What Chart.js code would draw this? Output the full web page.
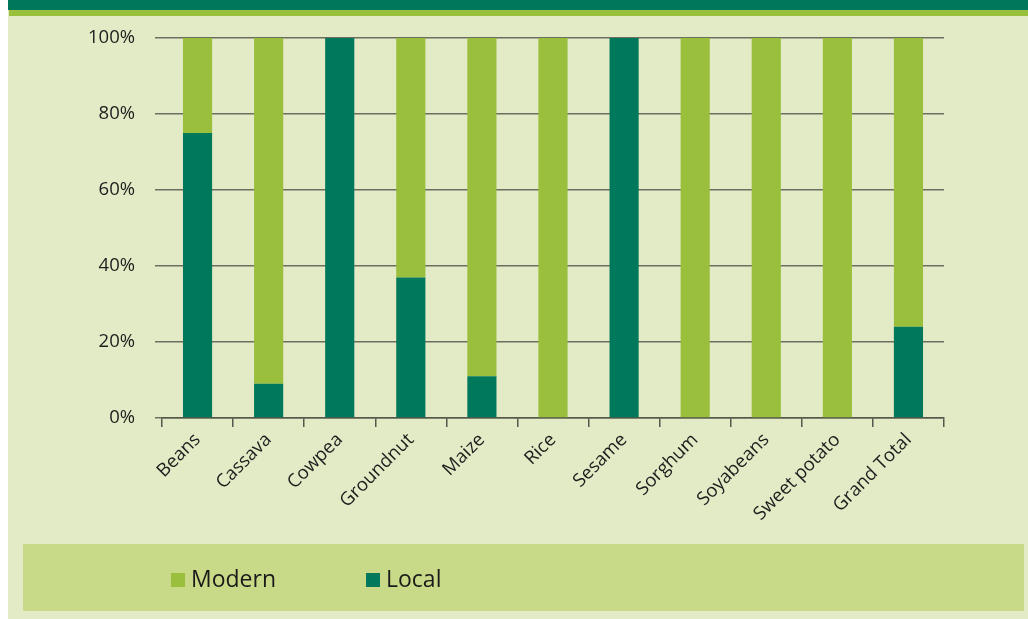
<!DOCTYPE html>
<html>
<head>
<meta charset="utf-8">
<script src="https://cdn.jsdelivr.net/npm/chart.js@4"></script>
<style>
  html, body { margin: 0; padding: 0; background: #ffffff; }
  #wrap { width: 1028px; height: 619px; position: relative; }
</style>
</head>
<body>
<div id="wrap"><canvas id="grafico"></canvas></div>
<script>
// dados do gráfico
const culturas = ['Beans', 'Cassava', 'Cowpea', 'Groundnut', 'Maize', 'Rice', 'Sesame', 'Sorghum', 'Soyabeans', 'Sweet potato', 'Grand Total'];
const local = [75, 9, 100, 37, 11, 0, 100, 0, 0, 0, 24];
const modern = [25, 91, 0, 63, 89, 100, 0, 100, 100, 100, 76];
const ticksY = [0, 20, 40, 60, 80, 100];

const corLocal = '#00785b';
const corModern = '#99bf3c';

// fundo, faixas e legenda desenhados à mão
const fundo = {
    id: 'fundo',
    beforeDraw(chart) {
        const c = chart.ctx;
        c.save();
        c.fillStyle = '#ffffff';
        c.fillRect(0, 0, 1028, 619);
        c.fillStyle = '#e3ebc6';
        c.fillRect(8, 0, 1020, 619);
        c.fillStyle = '#00775b';
        c.fillRect(8, 0, 1020, 10);
        c.fillStyle = '#99c03d';
        c.fillRect(9, 10, 1019, 6);
        c.fillStyle = '#c8da88';
        c.fillRect(23, 544, 1001, 67);
        c.restore();
    },
    afterDraw(chart) {
        const c = chart.ctx;
        const itens = [1, 0]; // Modern primeiro
        const xs = [171, 366];
        c.save();
        c.font = '23px "Open Sans", sans-serif';
        c.textBaseline = 'middle';
        itens.forEach((idx, i) => {
            const ds = chart.data.datasets[idx];
            c.fillStyle = ds.backgroundColor;
            c.fillRect(xs[i], 573, 14, 14);
            c.fillStyle = '#1a1a1a';
            c.fillText(ds.label, xs[i] + 20, 580);
        });
        c.restore();
    }
};

const ctx = document.getElementById('grafico').getContext('2d');
new Chart(ctx, {
    type: 'bar',
    data: {
        labels: culturas,
        datasets: [
            { label: 'Local', data: local, backgroundColor: corLocal, barPercentage: 0.41, categoryPercentage: 1 },
            { label: 'Modern', data: modern, backgroundColor: corModern, barPercentage: 0.41, categoryPercentage: 1 }
        ]
    },
    options: {
        responsive: true,
        maintainAspectRatio: false,
        animation: false,
        layout: { padding: { top: 38, right: 84, bottom: 0, left: 0 } },
        plugins: {
            legend: { display: false },
            tooltip: { enabled: false }
        },
        scales: {
            x: {
                stacked: true,
                afterFit: function(scale) { scale.height = 619 - 418; },
                grid: {
                    drawOnChartArea: false,
                    drawTicks: true,
                    tickLength: 9,
                    color: '#55584a',
                    lineWidth: 1.5
                },
                border: { display: true, color: '#55584a', width: 1.5 },
                ticks: {
                    minRotation: 45,
                    maxRotation: 45,
                    color: '#1e1e1e',
                    padding: 2,
                    font: { family: '"Open Sans", sans-serif', size: 18.5 }
                }
            },
            y: {
                stacked: true,
                min: 0,
                max: 100,
                afterFit: function(scale) { scale.width = 162; },
                afterBuildTicks: function(scale) { scale.ticks = ticksY.map(v => ({ value: v })); },
                grid: {
                    color: '#6c6f60',
                    lineWidth: 1.5,
                    tickLength: 7
                },
                border: { display: false },
                ticks: {
                    color: '#1e1e1e',
                    padding: 20,
                    font: { family: '"Open Sans", sans-serif', size: 18.5 },
                    callback: v => v + '%'
                }
            }
        }
    },
    plugins: [fundo]
});
</script>
</body>
</html>
